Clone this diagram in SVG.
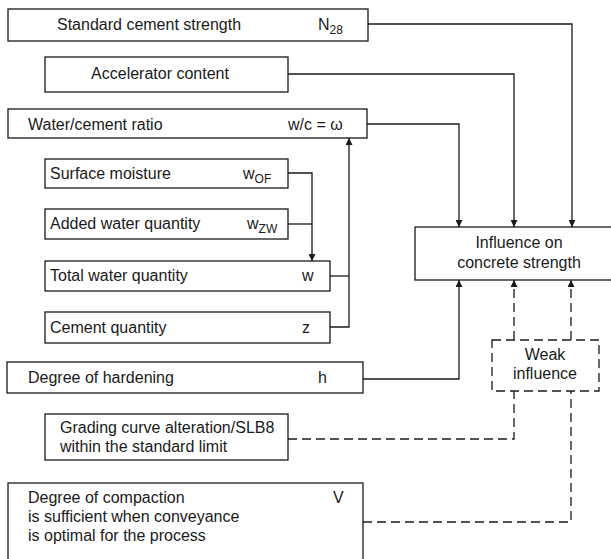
<svg xmlns="http://www.w3.org/2000/svg" width="611" height="559" viewBox="0 0 611 559">
  <style>
    .box { fill: #fff; stroke: #1a1a1a; stroke-width: 1.3; }
    .dbox { fill: #fff; stroke: #1a1a1a; stroke-width: 1.3; stroke-dasharray: 9 5; }
    .t { font-family: "Liberation Sans", Arial, sans-serif; font-size: 16px; fill: #1a1a1a; }
    .sub { font-size: 12px; }
    .c { text-anchor: middle; }
    .ln { fill: none; stroke: #1a1a1a; stroke-width: 1.3; }
    .dl { fill: none; stroke: #1a1a1a; stroke-width: 1.3; stroke-dasharray: 9 5; }
  </style>
  <defs>
    <marker id="ah" viewBox="0 0 10 10" refX="10" refY="5" markerWidth="8" markerHeight="7" markerUnits="userSpaceOnUse" orient="auto">
      <path d="M0,0 L10,5 L0,10 z" fill="#1a1a1a"/>
    </marker>
  </defs>
  <rect width="611" height="559" fill="#fff"/>

  <g id="connectors">
    <!-- solid inputs into the target box -->
    <path class="ln" d="M368,24 H572 V227" marker-end="url(#ah)"/>
    <path class="ln" d="M288,74 H514 V227" marker-end="url(#ah)"/>
    <path class="ln" d="M367,124 H459 V227" marker-end="url(#ah)"/>
    <path class="ln" d="M288,173 H312 V261" marker-end="url(#ah)"/>
    <path class="ln" d="M288,224 H312"/>
    <path class="ln" d="M330,276 H349"/>
    <path class="ln" d="M330,327 H349 V138" marker-end="url(#ah)"/>
    <path class="ln" d="M363,379 H459 V280" marker-end="url(#ah)"/>
    <!-- weak influence paths -->
    <path class="dl" d="M514,340 V280" marker-end="url(#ah)"/>
    <path class="dl" d="M571,340 V280" marker-end="url(#ah)"/>
    <path class="dl" d="M288,439 H514 V391"/>
    <path class="dl" d="M363,522 H571 V391"/>
  </g>

  <g id="n-cement-strength">
    <rect class="box" x="8" y="9" width="360" height="32"/>
    <text class="t" x="57" y="30">Standard cement strength</text>
    <text class="t" x="318" y="30">N<tspan class="sub" dy="4">28</tspan></text>
  </g>

  <g id="n-accelerator">
    <rect class="box" x="45" y="57" width="243" height="35"/>
    <text class="t c" x="160" y="79">Accelerator content</text>
  </g>

  <g id="n-wc-ratio">
    <rect class="box" x="8" y="109" width="359" height="29"/>
    <text class="t" x="28" y="130">Water/cement ratio</text>
    <text class="t" x="288" y="130">w/c = ω</text>
  </g>

  <g id="n-surface-moisture">
    <rect class="box" x="45" y="159" width="243" height="29"/>
    <text class="t" x="50" y="179">Surface moisture</text>
    <text class="t" x="243" y="179">w<tspan class="sub" dy="4">OF</tspan></text>
  </g>

  <g id="n-added-water">
    <rect class="box" x="45" y="209" width="243" height="30"/>
    <text class="t" x="50" y="229">Added water quantity</text>
    <text class="t" x="247" y="229">w<tspan class="sub" dy="4">ZW</tspan></text>
  </g>

  <g id="n-total-water">
    <rect class="box" x="45" y="261" width="285" height="30"/>
    <text class="t" x="50" y="281">Total water quantity</text>
    <text class="t" x="302" y="281">w</text>
  </g>

  <g id="n-cement-quantity">
    <rect class="box" x="45" y="312" width="285" height="31"/>
    <text class="t" x="50" y="333">Cement quantity</text>
    <text class="t" x="302" y="333">z</text>
  </g>

  <g id="n-hardening">
    <rect class="box" x="7" y="362" width="356" height="31"/>
    <text class="t" x="28" y="383">Degree of hardening</text>
    <text class="t" x="318" y="383">h</text>
  </g>

  <g id="n-grading">
    <rect class="box" x="45" y="414" width="243" height="46"/>
    <text class="t" x="60" y="433">Grading curve alteration/SLB8</text>
    <text class="t" x="60" y="452">within the standard limit</text>
  </g>

  <g id="n-compaction">
    <rect class="box" x="8" y="483" width="355" height="90"/>
    <text class="t" x="28" y="503">Degree of compaction</text>
    <text class="t" x="28" y="522">is sufficient when conveyance</text>
    <text class="t" x="28" y="541">is optimal for the process</text>
    <text class="t" x="333" y="503">V</text>
  </g>

  <g id="n-concrete-strength">
    <rect class="box" x="415" y="227" width="210" height="53"/>
    <text class="t c" x="519" y="248">Influence on</text>
    <text class="t c" x="519" y="268">concrete strength</text>
  </g>

  <g id="n-weak-influence">
    <rect class="dbox" x="492" y="340" width="107" height="51"/>
    <text class="t c" x="545" y="360">Weak</text>
    <text class="t c" x="545" y="379">influence</text>
  </g>
</svg>
